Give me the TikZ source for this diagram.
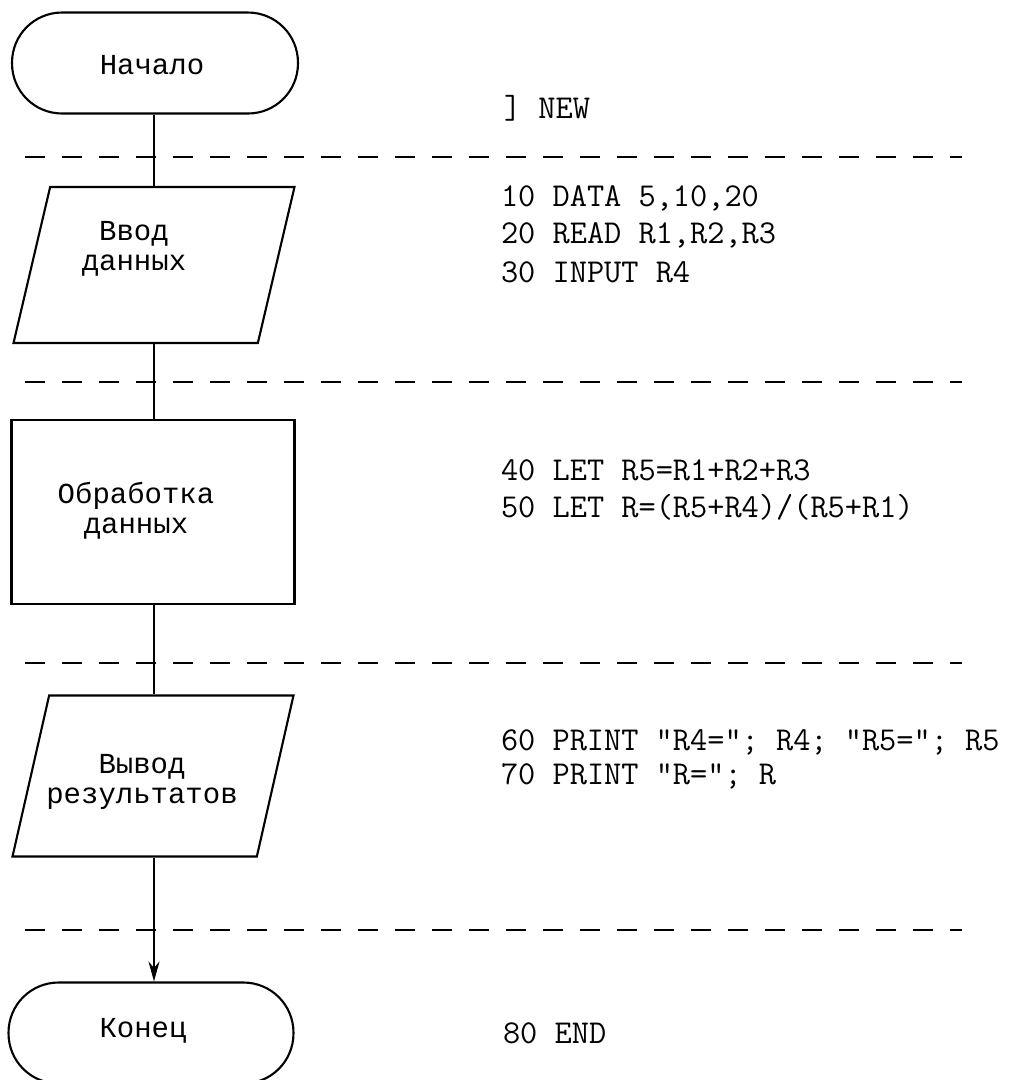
\documentclass[tikz,border=0pt]{standalone}
\usepackage{fontspec}
\newfontfamily\mashfont{Liberation Mono}
\usetikzlibrary{arrows.meta, shapes.geometric}

\begin{document}
\begin{tikzpicture}[
    x=0.02cm, y=-0.02cm,
    line width=1.2pt,
    nadpis/.style={align=center, inner sep=0pt,
                   font=\mashfont\fontsize{16.5}{17}\selectfont},
    kod/.style={anchor=west, inner sep=0pt,
                font=\ttfamily\fontsize{19}{22}\selectfont},
    granica/.style={draw, rounded corners=1cm, minimum width=5.72cm,
                    minimum height=2.02cm},
    vvodvyvod/.style={draw, trapezium, trapezium left angle=80,
                      trapezium right angle=100, trapezium stretches=true,
                      minimum width=5.62cm, minimum height=3.12cm},
    blok/.style={draw, minimum width=5.66cm, minimum height=3.68cm},
    razdel/.style={dash pattern=on 0.4cm off 0.34cm, line width=1.3pt},
    strelka/.style={-{Stealth[length=4mm, width=2.2mm]}}
  ]
  \useasboundingbox (0,0) rectangle (1017,1080);
  % блоки схемы
  \node[granica] (nachalo) at (155,63) {};
  \node[vvodvyvod] (vvod) at (154,265) {};
  \node[blok] (obrabotka) at (153,512) {};
  \node[vvodvyvod, minimum height=3.22cm] (vyvod) at (153,776) {};
  \node[granica, minimum width=5.7cm] (konec) at (151,1033) {};
  \node[nadpis] (nachalotxt) at (152,65) {Начало};
  \node[nadpis] (vvodtxt) at (134,249) {Ввод\\данных};
  \node[nadpis] (obrabotkatxt) at (136,511) {Обработка\\данных};
  \node[nadpis] (vyvodtxt) at (142,782) {Вывод\\результатов};
  \node[nadpis] (konectxt) at (143,1031) {Конец};
  % связи
  \draw (nachalo.south -| 154,0) -- (vvod.north -| 154,0);
  \draw (vvod.south -| 154,0) -- (obrabotka.north -| 154,0);
  \draw (obrabotka.south -| 154,0) -- (vyvod.north -| 154,0);
  \draw[strelka] (vyvod.south -| 154,0) -- (konec.north -| 154,0);
  % разделители
  \foreach \yy in {157, 382, 663, 930}
    \draw[razdel] (25,\yy) -- (962,\yy);
  % программа
  \node[kod] (novaya) at (503,108) {] NEW};
  \node[kod] (str10) at (500,198) {10 DATA 5,10,20};
  \node[kod] (str20) at (500,235) {20 READ R1,R2,R3};
  \node[kod] (str30) at (500,272) {30 INPUT R4};
  \node[kod] (str40) at (500,470) {40 LET R5=R1+R2+R3};
  \node[kod] (str50) at (500,507) {50 LET R=(R5+R4)/(R5+R1)};
  \node[kod] (str60) at (500,742) {60 PRINT "R4="; R4; "R5="; R5};
  \node[kod] (str70) at (500,776) {70 PRINT "R="; R};
  \node[kod] (str80) at (502,1033) {80 END};
\end{tikzpicture}
\end{document}
